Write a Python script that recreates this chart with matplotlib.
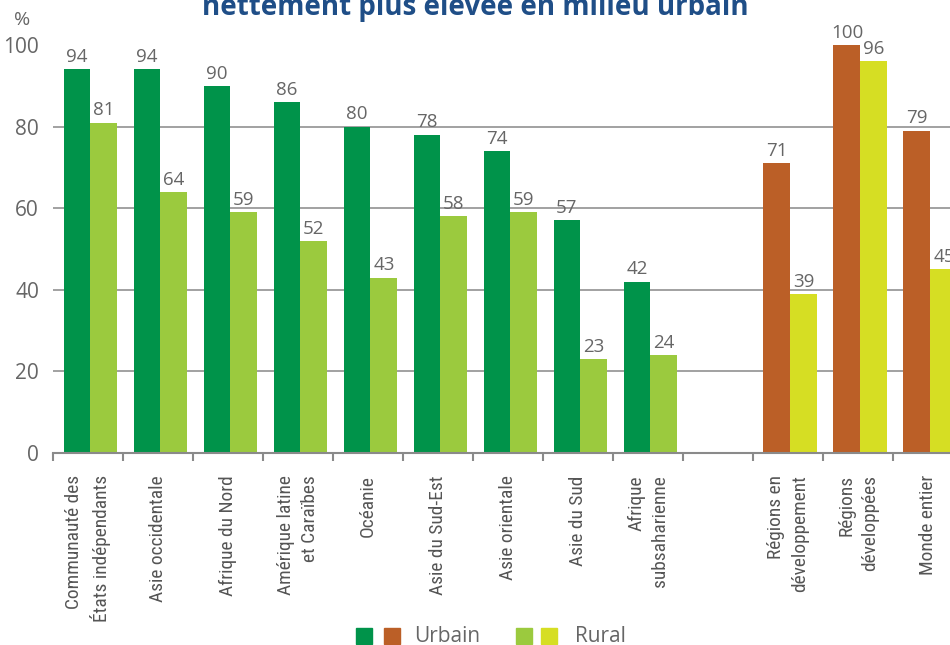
import matplotlib
matplotlib.use("Agg")
import matplotlib.pyplot as plt
from matplotlib.patches import Rectangle
from matplotlib import font_manager
import numpy as np

categories = ["Communauté des\nÉtats indépendants", "Asie occidentale", "Afrique du Nord",
              "Amérique latine\net Caraïbes", "Océanie", "Asie du Sud-Est", "Asie orientale",
              "Asie du Sud", "Afrique\nsubsaharienne", "",
              "Régions en\ndéveloppement", "Régions\ndéveloppées", "Monde entier"]
urban = [94, 94, 90, 86, 80, 78, 74, 57, 42, None, 71, 100, 79]
rural = [81, 64, 59, 52, 43, 58, 59, 23, 24, None, 39, 96, 45]
yticks = [0, 20, 40, 60, 80, 100]
title = "nettement plus élevée en milieu urbain"

available = {f.name for f in font_manager.fontManager.ttflist}
narrow = None
for cand in ['Liberation Sans Narrow', 'Roboto Condensed', 'Open Sans Condensed',
             'Noto Sans Condensed', 'DejaVu Sans Condensed', 'DejaVu Sans']:
    if cand in available:
        narrow = cand
        break
NARROW = [narrow, 'DejaVu Sans']
REG = ['Open Sans', 'DejaVu Sans']

c_urb = "#00934a"
c_rur = "#9bca3e"
c_urb2 = "#bb5f27"
c_rur2 = "#d6de23"
txt = "#666666"

fig = plt.figure(figsize=(9.5, 6.45), dpi=100)
ax = fig.add_axes([53/950, 192/645, 910/950, 408/645])
ax.set_xlim(-0.5, 12.5)
ax.set_ylim(0, 100)

# fit category font size so that the longest line is ~148 px
renderer = fig.canvas.get_renderer()
probe = fig.text(0, 0, "États indépendants", fontsize=14, family=NARROW)
wpx = probe.get_window_extent(renderer).width
probe.remove()
cat_fs = 14 * 148.0 / wpx

w = 0.385
off = 0.035
for i, (u, r) in enumerate(zip(urban, rural)):
    if u is None:
        continue
    cu = c_urb if i < 9 else c_urb2
    cr = c_rur if i < 9 else c_rur2
    ax.bar(i + off - w/2, u, width=w, color=cu, zorder=3)
    ax.bar(i + off + w/2, r, width=w, color=cr, zorder=3)
    ax.text(i + off - w/2, u + 0.8, str(u), ha='center', va='bottom', fontsize=13.5,
            color=txt, clip_on=False, family=REG, zorder=4)
    ax.text(i + off + w/2, r + 0.8, str(r), ha='center', va='bottom', fontsize=13.5,
            color=txt, clip_on=False, family=REG, zorder=4)

for y in yticks[1:-1]:
    ax.axhline(y, color="#9a9a9a", lw=1.3, zorder=1)

for s in ['top', 'right', 'left']:
    ax.spines[s].set_visible(False)
ax.spines['bottom'].set_color('#8a8a8a')
ax.spines['bottom'].set_linewidth(1.5)
ax.spines['bottom'].set_zorder(5)

ax.set_xticks(range(len(categories)))
ax.set_xticklabels(categories, rotation=90, fontsize=cat_fs, color="#555555",
                   ha='center', va='top', multialignment='right', family=NARROW,
                   linespacing=1.4)
ax.tick_params(axis='x', which='major', length=0, pad=16)
ax.set_xticks(np.arange(-0.5, 12.5, 1), minor=True)
ax.tick_params(axis='x', which='minor', length=6, width=1.5, color='#8a8a8a', direction='out')

ax.set_yticks(yticks)
ax.set_yticklabels([str(v) for v in yticks], fontsize=15, color=txt, family=REG)
ax.tick_params(axis='y', length=0, pad=10)

fig.text(22/950, 1 - 20/645, "%", fontsize=14, color=txt, ha='center', va='center',
         family=REG)
fig.text(0.5, 1 - 8/645, title, fontsize=20, fontweight='bold', color="#1f4e87",
         ha='center', va='center', family=REG)

def sq(x, color):
    fig.patches.append(Rectangle((x/950, 1 - 644/645), 16/950, 16/645,
                                 transform=fig.transFigure, color=color, figure=fig))
sq(356, c_urb); sq(384, c_urb2)
sq(516, c_rur); sq(541, c_rur2)
fig.text(414/950, 1 - 636/645, "Urbain", fontsize=15, color=txt, va='center', family=REG)
fig.text(575/950, 1 - 636/645, "Rural", fontsize=15, color=txt, va='center', family=REG)

fig.savefig("out.png", dpi=100)
